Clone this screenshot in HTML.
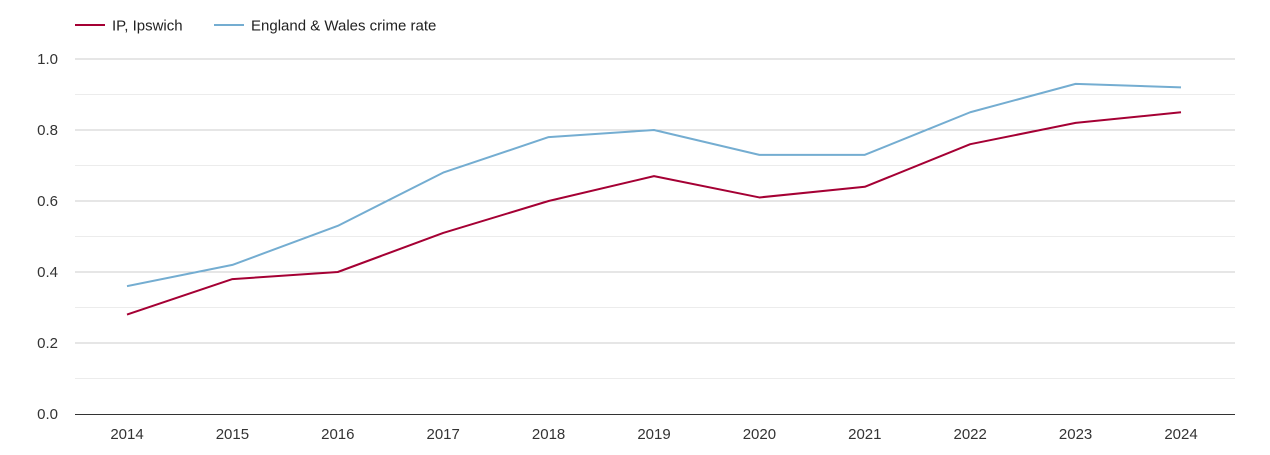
<!DOCTYPE html>
<html><head><meta charset="utf-8"><style>
body{margin:0;background:#fff;font-family:"Liberation Sans",Arial,sans-serif;}
svg text{font-family:"Liberation Sans",Arial,sans-serif;}
</style></head><body>
<svg id="chart" width="1270" height="450" xmlns="http://www.w3.org/2000/svg">
<g id="legend">
<g>
<line x1="75" y1="25" x2="105" y2="25" stroke="#a50034" stroke-width="2"/>
<text x="112" y="30.5" font-size="15" fill="#222">IP, Ipswich</text></g>
<g>
<line x1="214" y1="25" x2="244" y2="25" stroke="#74add1" stroke-width="2"/>
<text x="251" y="30.5" font-size="15" fill="#222">England &amp; Wales crime rate</text></g>
</g>
<g id="grid"></g>
<g id="axes"></g>
<g id="series"></g>
</svg>
<script>
const years = ["2014","2015","2016","2017","2018","2019","2020","2021","2022","2023","2024"];
const ipswichValues = [0.28,0.38,0.40,0.51,0.60,0.67,0.61,0.64,0.76,0.82,0.85];
const englandWalesValues = [0.36,0.42,0.53,0.68,0.78,0.80,0.73,0.73,0.85,0.93,0.92];
const yTickLabels = ["0.0","0.2","0.4","0.6","0.8","1.0"];
const yTickValues = [0,0.2,0.4,0.6,0.8,1.0];
const yMinorValues = [0.1,0.3,0.5,0.7,0.9];

const NS="http://www.w3.org/2000/svg";
const x0=127,x1=1181,yBase=414,yTop=59,left=75,right=1235;
function xs(i){return x0+(x1-x0)*i/(years.length-1);}
function ys(v){return yBase-(yBase-yTop)*v/1.0;}
function mk(tag,attrs,parent){const e=document.createElementNS(NS,tag);for(const k in attrs)e.setAttribute(k,attrs[k]);parent.appendChild(e);return e;}
const grid=document.getElementById('grid'),axes=document.getElementById('axes'),series=document.getElementById('series');
yMinorValues.forEach(v=>{const l=mk('line',{x1:left,x2:right,y1:ys(v),y2:ys(v),stroke:'#ececec','stroke-width':1},grid);

});
yTickValues.forEach((v,i)=>{
 if(v>0){const l=mk('line',{x1:left,x2:right,y1:ys(v),y2:ys(v),stroke:'#cccccc','stroke-width':1},grid);
 
 }
 const t=mk('text',{x:58,y:ys(v)+5,'text-anchor':'end','font-size':15,fill:'#333'},axes);
 t.textContent=yTickLabels[i];
 
 
});
const ax=mk('line',{x1:left,x2:right,y1:yBase+0.5,y2:yBase+0.5,stroke:'#333','stroke-width':1},axes);


years.forEach((y,i)=>{const t=mk('text',{x:xs(i),y:439,'text-anchor':'middle','font-size':15,fill:'#333'},axes);
 t.textContent=y;
 
 });
function line(vals,color,name){const p=mk('polyline',{points:vals.map((v,i)=>xs(i)+','+ys(v)).join(' '),fill:'none',stroke:color,'stroke-width':2,'stroke-linejoin':'round'},series);
 
 }
line(englandWalesValues,'#74add1','england-wales-line');
line(ipswichValues,'#a50034','ipswich-line');
</script>
</body></html>
